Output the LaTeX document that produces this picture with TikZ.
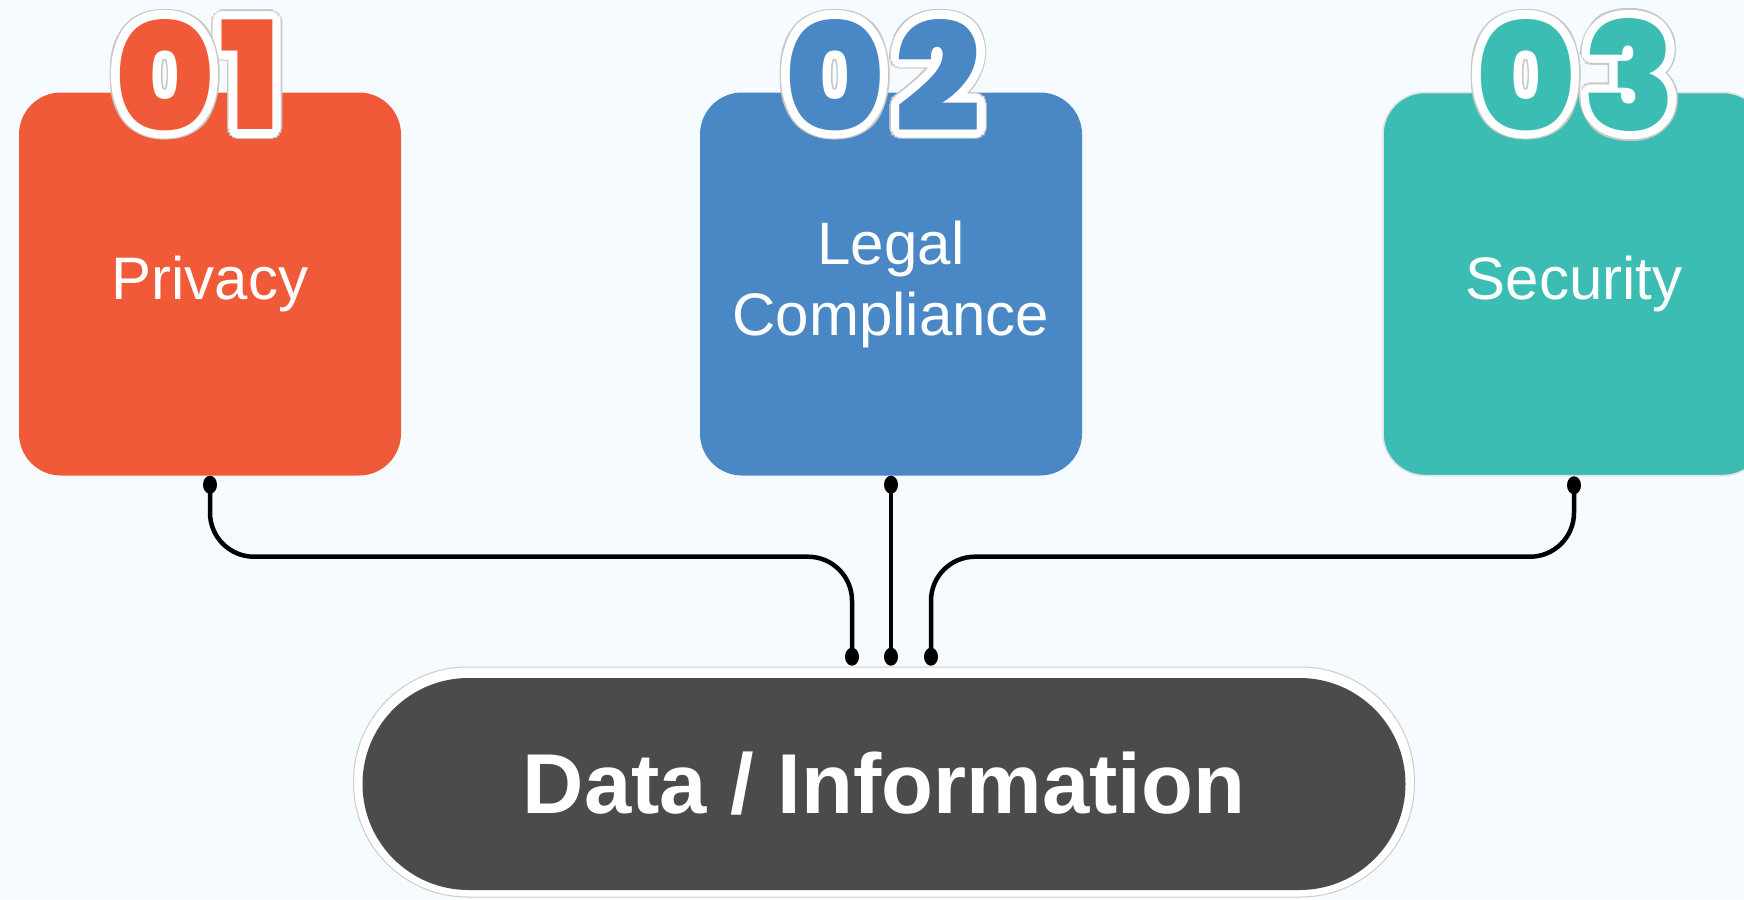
\documentclass[tikz,border=0pt]{standalone}
\usepackage{fontspec}
\setmainfont{Liberation Sans}
\newfontfamily\numfont{Poppins Black}
\usetikzlibrary{positioning}

\definecolor{privacyred}{HTML}{F05A38}
\definecolor{legalblue}{HTML}{4A87C5}
\definecolor{securityteal}{HTML}{3BBDB4}
\definecolor{datagray}{HTML}{4B4B4B}
\definecolor{paper}{HTML}{F5FBFE}

% one outlined card digit: position, colour, digit, name
\newcommand{\carddigit}[4]{%
  \foreach \a in {0,20,...,340}
    \node[numeral, text=black!22] at ([shift={(\a:10)}]#1) {#3};
  \foreach \a in {0,20,...,340}
    \node[numeral, text=white] at ([shift={(\a:8.5)}]#1) {#3};
  \node[numeral, text=#2] (#4) at (#1) {#3};}

\begin{document}
\begin{tikzpicture}[x=1pt, y=-1pt,
    card/.style={rectangle, rounded corners=42pt, minimum width=382pt,
                 minimum height=383pt, text=white, align=center,
                 font=\fontsize{60}{71}\selectfont},
    numeral/.style={font=\numfont\fontsize{150}{150}\selectfont, inner sep=0pt},
    link/.style={line width=4.5pt, rounded corners=44pt}]

    \fill[paper] (0,0) rectangle (1744,899);
    \useasboundingbox (0,0) rectangle (1744,899);

    \node[card, fill=privacyred] (privacy) at (210,284) {Privacy};
    \node[card, fill=legalblue] (legal) at (891,284) {Legal\\Compliance};
    \node[card, fill=securityteal, draw=black!12, line width=1.5pt] (security) at (1574,284) {Security};

    % second digit first, so the 0 lies over it
    \carddigit{250,75}{privacyred}{1}{one}
    \carddigit{165,75}{privacyred}{0}{zeroa}
    \carddigit{938,75}{legalblue}{2}{two}
    \carddigit{835,75}{legalblue}{0}{zerob}
    \carddigit{1630,75}{securityteal}{3}{three}
    \carddigit{1526,75}{securityteal}{0}{zeroc}

    \node[rounded corners=114pt, minimum width=1061pt, minimum height=230pt,
          fill=white, draw=black!20, line width=1pt] (frame) at (884,782) {};
    \node[rounded corners=106pt, minimum width=1043pt, minimum height=212pt,
          fill=datagray, text=white, font=\bfseries\fontsize{85}{85}\selectfont]
          (data) at (884,784) {Data / Information};

    \coordinate[below=9pt of privacy.south] (out1);
    \coordinate[below=9pt of legal.south] (out2);
    \coordinate[below=9pt of security.south] (out3);
    \coordinate[below=172pt of out2] (in2);
    \coordinate[left=39pt of in2] (in1);
    \coordinate[right=40pt of in2] (in3);

    \draw[link] (out1) |- ([yshift=100pt]in1) -- (in1);
    \draw[link] (out2) -- (in2);
    \draw[link] (out3) |- ([yshift=100pt]in3) -- (in3);

    \foreach \p in {out1,out2,out3,in1,in2,in3}
      \fill (\p) ellipse [x radius=7, y radius=9];
\end{tikzpicture}
\end{document}
